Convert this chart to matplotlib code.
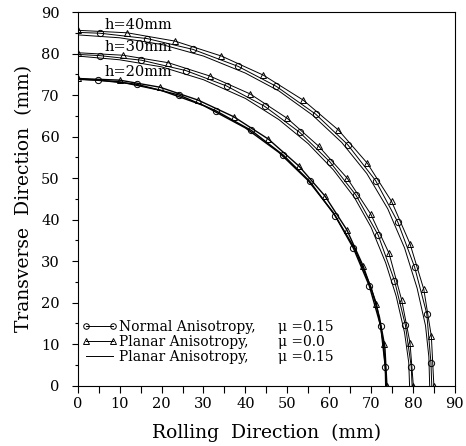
import numpy as np
import matplotlib
matplotlib.use('Agg')
import matplotlib.pyplot as plt
from matplotlib.ticker import MultipleLocator
from matplotlib.lines import Line2D

plt.rcParams['font.family'] = 'DejaVu Serif'

# h=40mm
x40_planar0 = [0, 11.8, 23.2, 34.3, 44.3, 53.8, 62.2, 69.1, 74.9, 79.3, 82.6, 84.4, 85.0]
y40_planar0 = [85.6, 85.0, 83.0, 79.4, 74.8, 68.8, 61.6, 53.6, 44.4, 34.2, 23.2, 11.9, 0.0]
x40_normal = [0, 5.3, 16.6, 27.5, 38.3, 47.4, 56.8, 64.4, 71.1, 76.4, 80.4, 83.3, 84.3, 84.5]
y40_normal = [85.1, 84.9, 83.6, 81.0, 76.9, 72.1, 65.4, 58.1, 49.4, 39.4, 28.6, 17.4, 5.6, 0.0]
x40_planar15 = [0, 10, 20, 30, 40, 48, 56, 63, 69, 74, 78, 81, 83, 83.8, 84.0]
y40_planar15 = [84.5, 83.8, 82.2, 79.4, 75.3, 71.0, 65.2, 58.6, 51.1, 42.6, 33.2, 23.5, 14.5, 7.0, 0.0]

# h=30mm
x30_planar0 = [0, 10.8, 21.6, 31.5, 41.1, 50.0, 57.5, 64.3, 69.9, 74.3, 77.3, 79.3, 80.1]
y30_planar0 = [80.2, 79.6, 77.8, 74.6, 70.3, 64.4, 57.7, 50.0, 41.4, 31.9, 20.7, 10.4, 0.0]
x30_normal = [0, 5.3, 15.2, 25.8, 35.5, 44.6, 53.0, 60.2, 66.4, 71.7, 75.6, 78.2, 79.6, 79.8]
y30_normal = [79.8, 79.5, 78.4, 75.9, 72.2, 67.3, 61.0, 53.9, 45.9, 36.3, 25.3, 14.6, 4.6, 0.0]
x30_planar15 = [0, 10, 20, 30, 40, 48, 55, 61, 66, 70, 73.5, 76, 78, 79, 79.2]
y30_planar15 = [79.4, 78.5, 76.8, 73.7, 69.2, 64.1, 58.3, 52.0, 45.4, 38.2, 29.6, 21.6, 12.8, 5.6, 0.0]

# h=20mm
x20_planar0 = [0, 10.0, 19.6, 28.7, 37.2, 45.5, 52.8, 59.0, 64.2, 68.1, 71.3, 73.0, 73.7]
y20_planar0 = [74.0, 73.6, 71.9, 68.8, 64.8, 59.4, 52.9, 45.7, 37.6, 28.9, 19.7, 10.0, 0.0]
x20_normal = [0, 4.9, 14.1, 24.2, 33.0, 41.4, 49.1, 55.4, 61.4, 65.8, 69.6, 72.3, 73.4, 73.5]
y20_normal = [73.8, 73.6, 72.6, 70.0, 66.2, 61.5, 55.5, 49.2, 41.0, 33.1, 24.0, 14.4, 4.6, 0.0]
x20_planar15 = [0, 10, 20, 30, 40, 48, 55, 61, 66, 70, 72, 73.3, 73.8]
y20_planar15 = [73.9, 73.2, 71.1, 67.5, 62.1, 56.2, 49.4, 41.7, 33.2, 23.7, 16.6, 9.4, 0.0]

families = [
    (x40_normal, y40_normal, x40_planar0, y40_planar0, x40_planar15, y40_planar15),
    (x30_normal, y30_normal, x30_planar0, y30_planar0, x30_planar15, y30_planar15),
    (x20_normal, y20_normal, x20_planar0, y20_planar0, x20_planar15, y20_planar15),
]
line_widths = [0.7, 0.7, 1.0]
h_labels = ['h=40mm', 'h=30mm', 'h=20mm']
h_label_y = [86.9, 81.5, 75.5]

legend_labels = ['Normal Anisotropy,', 'Planar Anisotropy,', 'Planar Anisotropy,']
mu_labels = ['\u03bc =0.15', '\u03bc =0.0', '\u03bc =0.15']

fig, ax = plt.subplots(figsize=(4.66, 4.46), dpi=100)
fig.subplots_adjust(left=0.167, right=0.976, bottom=0.135, top=0.973)

for (xn, yn, xp0, yp0, xp15, yp15), lw in zip(families, line_widths):
    ax.plot(xn, yn, color='k', lw=lw, marker='o', ms=4.5, mfc='none', mew=0.7,
            markevery=slice(1, -1))
    ax.plot(xp0, yp0, color='k', lw=lw, marker='^', ms=4.5, mfc='none', mew=0.7)
    ax.plot(xp15, yp15, color='k', lw=lw)

for lab, yy in zip(h_labels, h_label_y):
    ax.text(6.4, yy, lab, fontsize=10.5, va='center', ha='left')

ax.set_xlim(0, 90)
ax.set_ylim(0, 90)
ax.xaxis.set_major_locator(MultipleLocator(10))
ax.yaxis.set_major_locator(MultipleLocator(10))
ax.xaxis.set_minor_locator(MultipleLocator(5))
ax.yaxis.set_minor_locator(MultipleLocator(5))
ax.tick_params(axis='x', which='both', direction='out', length=5, width=0.8,
               labelsize=10.5, pad=3)
ax.tick_params(axis='y', which='major', direction='out', length=4, width=0.8,
               labelsize=10.5, pad=9)
ax.tick_params(axis='y', which='minor', direction='out', length=2.5, width=0.8)
for s in ax.spines.values():
    s.set_linewidth(0.8)

ax.set_xlabel('Rolling  Direction  (mm)', fontsize=13.5, labelpad=9)
ax.set_ylabel('Transverse  Direction  (mm)', fontsize=13.5, labelpad=6)

lw = 0.7
handles = [
    Line2D([], [], color='k', lw=lw, marker='o', ms=4, mfc='none', mew=0.7),
    Line2D([], [], color='k', lw=lw, marker='^', ms=4, mfc='none', mew=0.7),
    Line2D([], [], color='k', lw=lw),
]
leg = ax.legend(handles, legend_labels, loc='upper left', bbox_to_anchor=(0.0, 0.187),
                frameon=False, fontsize=10, numpoints=2, handlelength=2.5,
                handletextpad=0.2, labelspacing=0.06, borderaxespad=0.3,
                borderpad=0)

fig.canvas.draw()
inv = ax.transAxes.inverted()
for txt, mu in zip(leg.get_texts(), mu_labels):
    bb = txt.get_window_extent()
    yc = inv.transform((0, (bb.y0 + bb.y1) / 2))[1]
    ax.text(0.53, yc, mu, transform=ax.transAxes, fontsize=10, va='center', ha='left')

fig.savefig('out.png', dpi=100)
